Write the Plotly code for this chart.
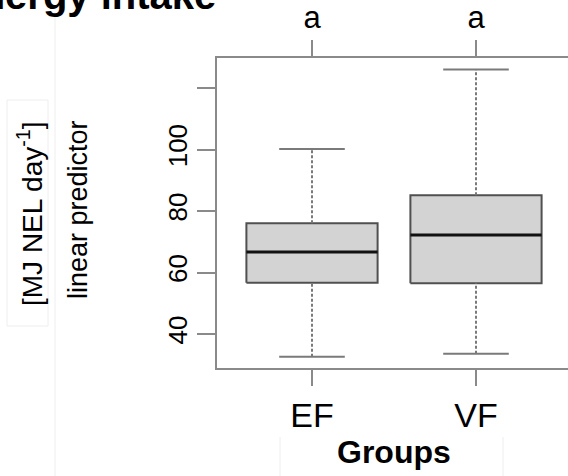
import plotly.graph_objects as go

# ---- data ----
groups = ["EF", "VF"]
positions = [1, 2]
lower_whisker = [32.6, 33.6]
q1 = [56.7, 56.5]
median = [66.7, 72.2]
q3 = [76.0, 85.1]
upper_whisker = [100.2, 126.0]
letters = ["a", "a"]
y_ticks = [40, 60, 80, 100, 120]
y_ticklabels = ["40", "60", "80", "100", ""]

BOX_HALF = 0.4
CAP_HALF = 0.2
FONT = "Liberation Sans, Arial, Helvetica, sans-serif"
AXIS_GREY = "#8a8a8a"
FAINT = "#eeeeee"

W, H = 568, 476
ML, MR, MT, MB = 217, 0, 58, 108
PW, PH = W - ML - MR, H - MT - MB

def px_to_paper_x(px):
    return (px - ML) / PW

def px_to_paper_y(py):
    return (H - MB - py) / PH

fig = go.Figure()

# boxes
bx, by = [], []
for p, a, b in zip(positions, q1, q3):
    bx += [p - BOX_HALF, p + BOX_HALF, p + BOX_HALF, p - BOX_HALF, p - BOX_HALF, None]
    by += [a, a, b, b, a, None]
fig.add_trace(go.Scatter(x=bx, y=by, mode="lines", fill="toself", fillcolor="#d3d3d3",
                         line=dict(color="#505050", width=2), hoverinfo="skip", showlegend=False))

# whiskers (dashed)
wx, wy = [], []
for p, lo, a, b, hi in zip(positions, lower_whisker, q1, q3, upper_whisker):
    wx += [p, p, None, p, p, None]
    wy += [lo, a, None, b, hi, None]
fig.add_trace(go.Scatter(x=wx, y=wy, mode="lines", line=dict(color="#7a7a7a", width=2, dash="3px,2px"),
                         hoverinfo="skip", showlegend=False))

# caps
cx, cy = [], []
for p, lo, hi in zip(positions, lower_whisker, upper_whisker):
    cx += [p - CAP_HALF, p + CAP_HALF, None, p - CAP_HALF, p + CAP_HALF, None]
    cy += [lo, lo, None, hi, hi, None]
fig.add_trace(go.Scatter(x=cx, y=cy, mode="lines", line=dict(color="#7a7a7a", width=2),
                         hoverinfo="skip", showlegend=False))

# medians
mx, my = [], []
for p, m in zip(positions, median):
    mx += [p - BOX_HALF, p + BOX_HALF, None]
    my += [m, m, None]
fig.add_trace(go.Scatter(x=mx, y=my, mode="lines", line=dict(color="#111111", width=3),
                         hoverinfo="skip", showlegend=False))

# invisible trace for the top axis
fig.add_trace(go.Scatter(x=positions, y=median, xaxis="x2", mode="markers",
                         marker=dict(opacity=0), hoverinfo="skip", showlegend=False))

x_lo = 1 - (312 - ML) / 164.0
x_hi = x_lo + PW / 164.0

faint_shapes = [
    dict(type="rect", xref="paper", yref="paper",
         x0=px_to_paper_x(7), x1=px_to_paper_x(48), y0=px_to_paper_y(326), y1=px_to_paper_y(100),
         line=dict(color=FAINT, width=1), layer="below"),
    dict(type="line", xref="paper", yref="paper",
         x0=px_to_paper_x(55), x1=px_to_paper_x(55), y0=px_to_paper_y(476), y1=px_to_paper_y(12),
         line=dict(color=FAINT, width=1), layer="below"),
    dict(type="line", xref="paper", yref="paper",
         x0=px_to_paper_x(280), x1=px_to_paper_x(280), y0=px_to_paper_y(476), y1=px_to_paper_y(437),
         line=dict(color=FAINT, width=1), layer="below"),
    dict(type="line", xref="paper", yref="paper",
         x0=px_to_paper_x(503), x1=px_to_paper_x(503), y0=px_to_paper_y(476), y1=px_to_paper_y(437),
         line=dict(color=FAINT, width=1), layer="below"),
]

fig.update_layout(
    width=W, height=H,
    margin=dict(l=ML, r=MR, t=MT, b=MB, pad=0),
    paper_bgcolor="white", plot_bgcolor="white",
    font=dict(family=FONT, color="#000000"),
    shapes=faint_shapes,
    xaxis=dict(range=[x_lo, x_hi], tickvals=positions, ticktext=groups,
               showgrid=False, zeroline=False, showline=True, linecolor=AXIS_GREY, linewidth=2,
               ticks="outside", ticklen=16, tickwidth=2, tickcolor=AXIS_GREY,
               tickfont=dict(size=34, family=FONT, color="#000")),
    xaxis2=dict(range=[x_lo, x_hi], overlaying="x", side="top", tickvals=positions, ticktext=letters,
                showgrid=False, zeroline=False, showline=True, linecolor=AXIS_GREY, linewidth=2,
                ticks="outside", ticklen=16, tickwidth=2, tickcolor=AXIS_GREY,
                tickfont=dict(size=31, family=FONT, color="#000")),
    yaxis=dict(range=[28.94, 129.76], tickvals=y_ticks, ticktext=y_ticklabels, tickangle=-90,
               showgrid=False, zeroline=False, showline=True, linecolor=AXIS_GREY, linewidth=2,
               ticks="outside", ticklen=18, tickwidth=2, tickcolor=AXIS_GREY,
               tickfont=dict(size=26, family=FONT, color="#000")),
    annotations=[
        dict(text="<b>Energy intake</b>", xref="paper", yref="paper",
             x=px_to_paper_x(218), y=px_to_paper_y(19), xanchor="right", yanchor="bottom",
             showarrow=False, font=dict(size=40, family=FONT, color="#000")),
        dict(text="linear predictor", xref="paper", yref="paper", textangle=-90,
             x=px_to_paper_x(78), y=px_to_paper_y(210), xanchor="center", yanchor="middle",
             showarrow=False, font=dict(size=27, family=FONT, color="#000")),
        dict(text="[MJ NEL day<sup>-1</sup>]", xref="paper", yref="paper", textangle=-90,
             x=px_to_paper_x(30), y=px_to_paper_y(214), xanchor="center", yanchor="middle",
             showarrow=False, font=dict(size=28, family=FONT, color="#000")),
        dict(text="<b>Groups</b>", xref="x", yref="paper",
             x=1.5, y=px_to_paper_y(452), xanchor="center", yanchor="middle",
             showarrow=False, font=dict(size=32, family=FONT, color="#000")),
    ],
)

fig.write_html("out.html")
